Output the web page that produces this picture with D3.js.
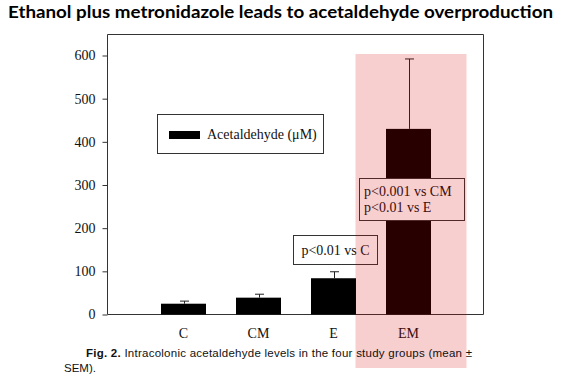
<!DOCTYPE html>
<html>
<head>
<meta charset="utf-8">
<script src="https://cdn.jsdelivr.net/npm/d3@7"></script>
<style>
  html, body { margin: 0; padding: 0; background: #fff; }
  svg { display: block; }
</style>
</head>
<body>
<svg id="chart" width="561" height="379"></svg>
<script>
// ---- data ----
const categories = ["C", "CM", "E", "EM"];
const means = [25, 39, 84, 430];
const sems = [6, 8, 15, 162];
const yTicks = [0, 100, 200, 300, 400, 500, 600];
const seriesName = "Acetaldehyde (\u03BCM)";
const titleText = "Ethanol plus metronidazole leads to acetaldehyde overproduction";
const captionBold = "Fig. 2.";
const captionLine1 = " Intracolonic acetaldehyde levels in the four study groups (mean \u00B1";
const captionLine2 = "SEM).";
const annoE = ["p<0.01 vs C"];
const annoEM = ["p<0.001 vs CM", "p<0.01 vs E"];

// ---- layout ----
const svg = d3.select("#chart");
const serif = "'Liberation Serif', 'Times New Roman', serif";
const sans = "'Liberation Sans', Arial, sans-serif";
const frame = { left: 107.5, right: 483.5, top: 34.5, bottom: 314.5 };

const y = d3.scaleLinear().domain([0, 600]).range([314.5, 55.5]);
const x = d3.scaleBand().domain(categories).range([146, 446])
  .paddingInner(0.4).paddingOuter(0.2);

// title
svg.append("text")
  .attr("x", 8).attr("y", 18)
  .attr("textLength", 545).attr("lengthAdjust", "spacingAndGlyphs")
  .style("font-family", "Lato, 'Open Sans', sans-serif")
  .style("font-weight", "bold").style("font-size", "17px")
  .attr("fill", "#000")
  .text(titleText);

// frame
svg.append("path")
  .attr("d", `M${frame.left},${frame.bottom}V${frame.top}H${frame.right}V${frame.bottom}H${frame.left}`)
  .attr("fill", "none").attr("stroke", "#333").attr("stroke-width", 1);

// y axis
const yAxis = svg.append("g")
  .attr("transform", `translate(${frame.left},0)`)
  .call(d3.axisLeft(y).tickValues(yTicks).tickSize(5).tickPadding(7).tickFormat(d3.format("d")));
yAxis.select(".domain").remove();
yAxis.selectAll("line").attr("stroke", "#333");
yAxis.selectAll("text")
  .style("font-family", serif).style("font-size", "14px").attr("fill", "#111");

// x axis labels
const xAxis = svg.append("g")
  .attr("transform", `translate(0,${y(0)})`)
  .call(d3.axisBottom(x).tickSize(0).tickPadding(14));
xAxis.select(".domain").remove();
xAxis.selectAll("text")
  .style("font-family", serif).style("font-size", "14px").attr("fill", "#111");

// bars
svg.append("g").selectAll("rect")
  .data(categories)
  .join("rect")
  .attr("x", d => x(d))
  .attr("width", x.bandwidth())
  .attr("y", (d, i) => y(means[i]))
  .attr("height", (d, i) => y(0) - y(means[i]))
  .attr("fill", "#000");

// error bars (upper only)
const capW = 9;
const eb = svg.append("g").attr("stroke", "#222").attr("stroke-width", 1);
categories.forEach((c, i) => {
  const cx = Math.round(x(c) + x.bandwidth() / 2) + 0.5;
  eb.append("line").attr("x1", cx).attr("x2", cx)
    .attr("y1", y(means[i])).attr("y2", y(means[i] + sems[i]));
  eb.append("line").attr("x1", cx - capW / 2).attr("x2", cx + capW / 2)
    .attr("y1", y(means[i] + sems[i])).attr("y2", y(means[i] + sems[i]));
});

// legend
const lg = svg.append("g");
lg.append("rect").attr("x", 157.5).attr("y", 114.5).attr("width", 166).attr("height", 39)
  .attr("fill", "#fff").attr("stroke", "#333");
lg.append("rect").attr("x", 169).attr("y", 131).attr("width", 31).attr("height", 8).attr("fill", "#000");
lg.append("text").attr("x", 207).attr("y", 139)
  .style("font-family", serif).style("font-size", "14px").attr("fill", "#111")
  .text(seriesName);

// annotation for E
const aE = svg.append("g");
aE.append("rect").attr("x", 293.5).attr("y", 235.5).attr("width", 84).attr("height", 29)
  .attr("fill", "#fff").attr("stroke", "#333");
aE.append("text").attr("x", 335.5).attr("y", 255)
  .attr("text-anchor", "middle")
  .style("font-family", serif).style("font-size", "14px").attr("fill", "#111")
  .text(annoE[0]);

// annotation for EM
const aEM = svg.append("g");
aEM.append("rect").attr("x", 359.5).attr("y", 178.5).attr("width", 105).attr("height", 42)
  .attr("fill", "#fff").attr("stroke", "#333");
aEM.selectAll("text").data(annoEM).join("text")
  .attr("x", 364).attr("y", (d, i) => 196 + i * 16)
  .style("font-family", serif).style("font-size", "14px").attr("fill", "#111")
  .text(d => d);

// highlight overlay on EM
const emC = x("EM") + x.bandwidth() / 2;
svg.append("rect")
  .attr("x", emC - 53).attr("width", 111)
  .attr("y", 54).attr("height", 314)
  .attr("fill", "rgb(220,0,0)").attr("fill-opacity", 0.19);

// caption
const cap = svg.append("text").attr("x", 86).attr("y", 357)
  .attr("textLength", 386).attr("lengthAdjust", "spacing")
  .style("font-family", sans).style("font-size", "11.5px").attr("fill", "#111");
cap.append("tspan").style("font-weight", "bold").text(captionBold);
cap.append("tspan").text(captionLine1);
svg.append("text").attr("x", 64).attr("y", 372)
  .style("font-family", sans).style("font-size", "11.5px").attr("fill", "#111")
  .text(captionLine2);
</script>
</body>
</html>
